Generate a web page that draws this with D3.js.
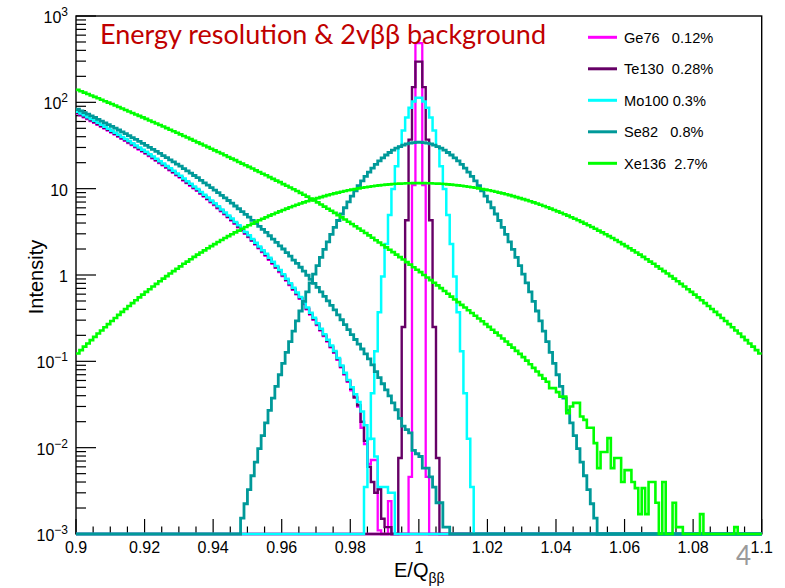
<!DOCTYPE html>
<html>
<head>
<meta charset="utf-8">
<script src="https://cdn.jsdelivr.net/npm/d3@7"></script>
<style>
  html, body { margin: 0; padding: 0; background: #ffffff; }
  svg { display: block; }
  text { font-family: "Liberation Sans", Arial, Helvetica, sans-serif; }
</style>
</head>
<body>
<svg id="chart" width="785" height="588"></svg>
<script>
// ---- axis definitions ----
const binWidth = 0.001;
const xDomain = [0.9, 1.1];
const yDomain = [1e-3, 1e3];
const xTickValues = [0.9, 0.92, 0.94, 0.96, 0.98, 1.0, 1.02, 1.04, 1.06, 1.08, 1.1];
const xTickLabels = ["0.9", "0.92", "0.94", "0.96", "0.98", "1", "1.02", "1.04", "1.06", "1.08", "1.1"];
const yDecades = [-3, -2, -1, 0, 1, 2, 3];

// ---- legend ----
const isotopes = ["Ge76", "Te130", "Mo100", "Se82", "Xe136"];
const legendLabels = ["Ge76   0.12%", "Te130  0.28%", "Mo100 0.3%", "Se82   0.8%", "Xe136  2.7%"];
const colors = ["#ff00ff", "#660066", "#00ffff", "#009999", "#00ff00"];
const lineWidths = [2.3, 2.4, 2.5, 2.8, 2.6];

// ---- 2vbb continuum near the endpoint (per 0.001 bin, from E/Q = 0.9) ----
const ge76Tail = [
  74.1, 70.5, 67.2, 63.9, 60.8, 58.0, 55.0, 52.2, 49.6, 47.0,
  44.7, 42.3, 40.0, 37.8, 35.8, 33.8, 31.9, 30.1, 28.4, 26.9,
  25.4, 23.8, 22.4, 21.1, 19.8, 18.6, 17.4, 16.3, 15.3, 14.3,
  13.4, 12.4, 11.6, 10.8, 10.1, 9.41, 8.72, 8.08, 7.50, 6.94,
  6.44, 5.93, 5.46, 5.04, 4.64, 4.28, 3.90, 3.57, 3.27, 2.99,
  2.74, 2.48, 2.25, 2.03, 1.84, 1.67, 1.50, 1.35, 1.21, 1.08,
  0.969, 0.861, 0.762, 0.675, 0.597, 0.528, 0.460, 0.400, 0.348, 0.303,
  0.263, 0.227, 0.196, 0.169, 0.145, 0.125, 0.104, 0.085, 0.070, 0.058,
  0.046, 0.039, 0.030, 0.017, 0.011, 0.0065, 0.0072, 0.0072, 0.0011, 0,
  0, 0.0024
];
const te130Tail = [
  75.7, 72.0, 68.6, 65.3, 62.1, 59.2, 56.2, 53.3, 50.6, 48.0,
  45.6, 43.2, 40.8, 38.6, 36.6, 34.5, 32.6, 30.7, 29.0, 27.5,
  25.9, 24.3, 22.9, 21.5, 20.2, 19.0, 17.8, 16.7, 15.6, 14.6,
  13.7, 12.7, 11.8, 11.1, 10.3, 9.61, 8.90, 8.25, 7.65, 7.09,
  6.58, 6.05, 5.58, 5.14, 4.73, 4.37, 3.99, 3.65, 3.34, 3.06,
  2.79, 2.53, 2.30, 2.08, 1.88, 1.71, 1.53, 1.38, 1.23, 1.11,
  0.989, 0.879, 0.778, 0.689, 0.609, 0.539, 0.469, 0.408, 0.355, 0.309,
  0.269, 0.232, 0.200, 0.173, 0.148, 0.128, 0.106, 0.087, 0.072, 0.059,
  0.048, 0.038, 0.031, 0.020, 0.012, 0.006, 0.004, 0.003, 0.0033, 0.0015,
  0.0012, 0.0012
];
const mo100Tail = [
  78.0, 74.2, 70.7, 67.3, 64.0, 61.0, 57.9, 54.9, 52.2, 49.5,
  47.0, 44.5, 42.1, 39.8, 37.7, 35.6, 33.6, 31.7, 29.9, 28.3,
  26.7, 25.1, 23.6, 22.2, 20.8, 19.6, 18.3, 17.2, 16.1, 15.0,
  14.1, 13.1, 12.2, 11.4, 10.6, 9.91, 9.18, 8.51, 7.89, 7.31,
  6.78, 6.24, 5.75, 5.30, 4.88, 4.50, 4.11, 3.76, 3.44, 3.15,
  2.88, 2.61, 2.37, 2.14, 1.94, 1.76, 1.58, 1.42, 1.27, 1.14,
  1.02, 0.906, 0.802, 0.710, 0.628, 0.556, 0.484, 0.421, 0.366, 0.319,
  0.277, 0.239, 0.206, 0.178, 0.153, 0.132, 0.109, 0.0895, 0.0738, 0.0608,
  0.0501, 0.0417, 0.0339, 0.0263, 0.0182, 0.0126, 0.0127, 0.0079, 0.0035, 0.0035,
  0.0035, 0.0030, 0.0030
];
const se82Tail = [
  83.4, 79.7, 76.2, 72.9, 69.7, 66.7, 63.6, 60.7, 57.9, 55.3,
  52.7, 50.2, 47.8, 45.5, 43.3, 41.2, 39.1, 37.2, 35.3, 33.5,
  31.8, 30.1, 28.5, 27.0, 25.6, 24.2, 22.9, 21.6, 20.4, 19.2,
  18.2, 17.1, 16.1, 15.1, 14.2, 13.4, 12.5, 11.7, 11.0, 10.3,
  9.64, 8.99, 8.38, 7.81, 7.29, 6.79, 6.30, 5.85, 5.42, 5.03,
  4.67, 4.30, 3.97, 3.66, 3.38, 3.11, 2.85, 2.61, 2.39, 2.18,
  2.00, 1.82, 1.65, 1.49, 1.36, 1.23, 1.11, 0.993, 0.892, 0.801,
  0.719, 0.638, 0.566, 0.502, 0.445, 0.394, 0.346, 0.303, 0.266, 0.233,
  0.204, 0.179, 0.158, 0.139, 0.122, 0.107, 0.0912, 0.0759, 0.0646, 0.0550,
  0.0468, 0.0398, 0.0331, 0.0275, 0.0219, 0.0178, 0.0162, 0.0148, 0.0093, 0.0085,
  0.0079, 0.0058, 0.0058, 0.0046, 0.0035, 0.0023, 0.0023, 0.0012, 0.0012
];
const xe136Tail = [
  139.6, 134.5, 129.5, 124.7, 120.1, 115.6, 111.3, 107.1, 103.1, 99.2,
  95.5, 91.8, 88.2, 84.8, 81.5, 78.3, 75.3, 72.4, 69.6, 66.9,
  64.3, 61.7, 59.2, 56.8, 54.6, 52.4, 50.2, 48.2, 46.2, 44.4,
  42.6, 40.8, 39.1, 37.5, 35.9, 34.4, 33.0, 31.6, 30.3, 29.0,
  27.8, 26.6, 25.5, 24.4, 23.3, 22.3, 21.4, 20.4, 19.5, 18.7,
  17.9, 17.1, 16.3, 15.6, 14.9, 14.3, 13.6, 13.0, 12.4, 11.9,
  11.3, 10.8, 10.3, 9.83, 9.39, 8.95, 8.51, 8.08, 7.68, 7.30,
  6.93, 6.55, 6.20, 5.86, 5.54, 5.24, 4.94, 4.65, 4.39, 4.14,
  3.90, 3.67, 3.45, 3.25, 3.06, 2.88, 2.70, 2.53, 2.38, 2.23,
  2.09, 1.96, 1.84, 1.72, 1.61, 1.51, 1.41, 1.32, 1.23, 1.15,
  1.08, 1.00, 0.936, 0.873, 0.814, 0.759, 0.704, 0.653, 0.606, 0.562,
  0.521, 0.485, 0.451, 0.420, 0.390, 0.363, 0.337, 0.313, 0.291, 0.270,
  0.251, 0.232, 0.215, 0.199, 0.184, 0.170, 0.156, 0.144, 0.132, 0.122,
  0.112, 0.102, 0.0925, 0.0839, 0.0762, 0.0692, 0.063, 0.058, 0.049, 0.049,
  0.044, 0.039, 0.039, 0.025, 0.030, 0.033, 0.033, 0.023, 0.021, 0.017,
  0.017, 0.0113, 0.0058, 0.0089, 0.0089, 0.0129, 0.0058, 0.0076, 0.0076, 0.0040,
  0.0055, 0.0055, 0.0040, 0.0034, 0.0017, 0.0034, 0.0017, 0.0040, 0.0040, 0.0023,
  0, 0.0040, 0, 0, 0.0023, 0.0012, 0.0012, 0, 0, 0,
  0, 0, 0.0017, 0, 0, 0, 0, 0, 0, 0,
  0, 0, 0.0012
];

// ---- 0vbb peaks at Q (first bin lower edge given by *From) ----
const ge76PeakFrom = 0.997;
const ge76Peak = [0.0046, 11, 485, 485, 11, 0.0046];
const te130PeakFrom = 0.994;
const te130Peak = [0.0076, 0.25, 4.3, 37, 150, 296, 296, 150, 37, 4.3, 0.25, 0.0076];
const mo100PeakFrom = 0.984;
const mo100Peak = [
  0.0035, 0.0127, 0.0427, 0.131, 0.371, 0.962, 2.28, 4.97, 9.9, 18.2, 30.6, 47.1, 66.6, 86.4, 102.5, 113,
  113, 102.5, 86.4, 66.6, 47.1, 30.6, 18.2, 9.9, 4.97, 2.28, 0.962, 0.371, 0.131, 0.0427, 0.0127, 0.0035
];
const se82PeakFrom = 0.948;
const se82Peak = [
  0.00153, 0.00224, 0.00327, 0.00473, 0.00681, 0.00973, 0.0138, 0.0194, 0.0270, 0.0374,
  0.0513, 0.0699, 0.0946, 0.127, 0.169, 0.224, 0.294, 0.383, 0.496, 0.636,
  0.810, 1.024, 1.285, 1.60, 1.98, 2.42, 2.95, 3.57, 4.28, 5.09,
  6.01, 7.04, 8.19, 9.46, 10.84, 12.32, 13.91, 15.58, 17.32, 19.11,
  20.93, 22.74, 24.53, 26.25, 27.89, 29.41, 30.77, 31.96, 32.94, 33.69,
  34.21, 34.47,
  34.47, 34.21,
  33.69, 32.94, 31.96, 30.77, 29.41, 27.89, 26.25, 24.53, 22.74, 20.93,
  19.11, 17.32, 15.58, 13.91, 12.32, 10.84, 9.46, 8.19, 7.04, 6.01,
  5.09, 4.28, 3.57, 2.95, 2.42, 1.98, 1.60, 1.285, 1.024, 0.810,
  0.636, 0.496, 0.383, 0.294, 0.224, 0.169, 0.127, 0.0946, 0.0699, 0.0513,
  0.0374, 0.0270, 0.0194, 0.0138, 0.00973, 0.00681, 0.00473, 0.00327, 0.00224, 0.00153
];
const xe136PeakFrom = 0.9;
const xe136Peak = [
  0.123, 0.135, 0.148, 0.161, 0.176, 0.192, 0.210, 0.228, 0.248, 0.270,
  0.293, 0.318, 0.345, 0.374, 0.404, 0.437, 0.472, 0.510, 0.550, 0.592,
  0.637, 0.685, 0.736, 0.790, 0.847, 0.907, 0.971, 1.04, 1.11, 1.18,
  1.26, 1.35, 1.43, 1.52, 1.62, 1.72, 1.82, 1.93, 2.04, 2.16,
  2.28, 2.41, 2.54, 2.68, 2.82, 2.97, 3.12, 3.27, 3.43, 3.60,
  3.77, 3.94, 4.12, 4.30, 4.48, 4.67, 4.87, 5.06, 5.26, 5.46,
  5.67, 5.87, 6.08, 6.29, 6.51, 6.72, 6.93, 7.14, 7.36, 7.57,
  7.78, 7.99, 8.20, 8.41, 8.61, 8.81, 9.00, 9.20, 9.38, 9.57,
  9.74, 9.91, 10.08, 10.24, 10.39, 10.54, 10.67, 10.80, 10.92, 11.03,
  11.13, 11.22, 11.31, 11.38, 11.44, 11.50, 11.54, 11.57, 11.59, 11.60,
  11.60, 11.59, 11.57, 11.54, 11.50, 11.44, 11.38, 11.31, 11.22, 11.13,
  11.03, 10.92, 10.80, 10.67, 10.54, 10.39, 10.24, 10.08, 9.91, 9.74,
  9.57, 9.38, 9.20, 9.00, 8.81, 8.61, 8.41, 8.20, 7.99, 7.78,
  7.57, 7.36, 7.14, 6.93, 6.72, 6.51, 6.29, 6.08, 5.87, 5.67,
  5.46, 5.26, 5.06, 4.87, 4.67, 4.48, 4.30, 4.12, 3.94, 3.77,
  3.60, 3.43, 3.27, 3.12, 2.97, 2.82, 2.68, 2.54, 2.41, 2.28,
  2.16, 2.04, 1.93, 1.82, 1.72, 1.62, 1.52, 1.43, 1.35, 1.26,
  1.18, 1.11, 1.04, 0.971, 0.907, 0.847, 0.790, 0.736, 0.685, 0.637,
  0.592, 0.550, 0.510, 0.472, 0.437, 0.404, 0.374, 0.345, 0.318, 0.293,
  0.270, 0.248, 0.228, 0.210, 0.192, 0.176, 0.161, 0.148, 0.135, 0.123
];

// drawing order: each isotope's continuum then its peak
const histograms = [
  { iso: 0, from: 0.9, values: ge76Tail },
  { iso: 0, from: ge76PeakFrom, values: ge76Peak },
  { iso: 1, from: 0.9, values: te130Tail },
  { iso: 1, from: te130PeakFrom, values: te130Peak },
  { iso: 2, from: 0.9, values: mo100Tail },
  { iso: 2, from: mo100PeakFrom, values: mo100Peak },
  { iso: 3, from: 0.9, values: se82Tail },
  { iso: 3, from: se82PeakFrom, values: se82Peak },
  { iso: 4, from: 0.9, values: xe136Tail },
  { iso: 4, from: xe136PeakFrom, values: xe136Peak }
];

// ---- layout ----
const frame = { left: 76, right: 761.7, top: 16, bottom: 534 };
const svg = d3.select("#chart");
const x = d3.scaleLinear().domain(xDomain).range([frame.left, frame.right]);
const y = d3.scaleLog().domain(yDomain).range([frame.bottom, frame.top]);

const nBins = Math.round((xDomain[1] - xDomain[0]) / binWidth);

function fullBins(from, values) {
  const start = Math.round((from - xDomain[0]) / binWidth);
  const out = new Array(nBins).fill(0);
  values.forEach((v, j) => { if (start + j >= 0 && start + j < nBins) out[start + j] = v; });
  return out;
}

function stepPoints(bins) {
  const pts = bins.map((v, i) => [xDomain[0] + i * binWidth, v]);
  pts.push([xDomain[1], bins[bins.length - 1]]);
  return pts;
}

const clampY = v => y(Math.min(Math.max(v, yDomain[0]), yDomain[1]));
const stepLine = d3.line()
  .x(d => x(d[0]))
  .y(d => clampY(d[1]))
  .curve(d3.curveStepAfter);

// frame
svg.append("rect")
  .attr("x", frame.left).attr("y", frame.top)
  .attr("width", frame.right - frame.left).attr("height", frame.bottom - frame.top)
  .attr("fill", "none").attr("stroke", "#000").attr("stroke-width", 1.4);

// y ticks: decades long, 2..9 short
const yTicks = svg.append("g");
yDecades.forEach(d => {
  const v = Math.pow(10, d);
  yTicks.append("line")
    .attr("x1", frame.left).attr("x2", frame.left + 20)
    .attr("y1", y(v)).attr("y2", y(v))
    .attr("stroke", "#000").attr("stroke-width", 1.2);
  if (d < 3) {
    for (let m = 2; m <= 9; m++) {
      const mv = m * v;
      yTicks.append("line")
        .attr("x1", frame.left).attr("x2", frame.left + 10)
        .attr("y1", y(mv)).attr("y2", y(mv))
        .attr("stroke", "#000").attr("stroke-width", 1.2);
    }
  }
  const t = yTicks.append("text")
    .attr("x", 68).attr("y", y(v) + 7)
    .attr("text-anchor", "end")
    .attr("font-size", 16)
    .attr("fill", "#000");
  if (d === 0) {
    t.text("1");
  } else if (d === 1) {
    t.text("10");
  } else {
    t.append("tspan").text("10");
    t.append("tspan").attr("dy", -7).attr("font-size", 12)
      .text(d < 0 ? "\u2212" + Math.abs(d) : String(d));
  }
});

// x ticks: labelled every 0.02, short every 0.005
const xTicks = svg.append("g");
for (let k = 0; k <= 40; k++) {
  const v = xDomain[0] + k * 0.005;
  const major = k % 4 === 0;
  xTicks.append("line")
    .attr("x1", x(v)).attr("x2", x(v))
    .attr("y1", frame.bottom).attr("y2", frame.bottom - (major ? 15 : 7.5))
    .attr("stroke", "#000").attr("stroke-width", 1.2);
}
xTickValues.forEach((v, i) => {
  xTicks.append("text")
    .attr("x", x(v)).attr("y", 553)
    .attr("text-anchor", "middle")
    .attr("font-size", 16)
    .attr("fill", "#000")
    .text(xTickLabels[i]);
});

// histograms
const plot = svg.append("g");
histograms.forEach(h => {
  plot.append("path")
    .attr("d", stepLine(stepPoints(fullBins(h.from, h.values))))
    .attr("fill", "none")
    .attr("stroke", colors[h.iso])
    .attr("stroke-width", lineWidths[h.iso])
    .attr("stroke-linejoin", "miter");
});

// axis titles
const xt = svg.append("text")
  .attr("x", 394).attr("y", 577)
  .attr("font-size", 20).attr("fill", "#000");
xt.append("tspan").text("E/Q");
xt.append("tspan").attr("dy", 6).attr("font-size", 14).text("\u03b2\u03b2");

svg.append("text")
  .attr("transform", "translate(43,277) rotate(-90)")
  .attr("text-anchor", "middle")
  .attr("font-size", 20).attr("fill", "#000")
  .text("Intensity");

// legend
const legend = svg.append("g");
isotopes.forEach((name, j) => {
  const ly = 37.3 + j * 31.5;
  legend.append("line")
    .attr("x1", 588).attr("x2", 617).attr("y1", ly).attr("y2", ly)
    .attr("stroke", colors[j]).attr("stroke-width", 3);
  legend.append("text")
    .attr("x", 624).attr("y", ly + 5.3)
    .attr("font-size", 14.6).attr("fill", "#000")
    .style("white-space", "pre")
    .text(legendLabels[j]);
});

// headline and page number
svg.append("text")
  .attr("x", 100).attr("y", 44)
  .attr("font-size", 27)
  .attr("fill", "#c00000")
  .attr("textLength", 446)
  .style("font-family", "Lato, 'Open Sans', sans-serif")
  .text("Energy resolution & 2v\u03b2\u03b2 background");

svg.append("text")
  .attr("x", 736).attr("y", 565)
  .attr("font-size", 26)
  .attr("fill", "#9a9a9a")
  .style("font-family", "Lato, 'Open Sans', sans-serif")
  .text("4");
</script>
</body>
</html>
